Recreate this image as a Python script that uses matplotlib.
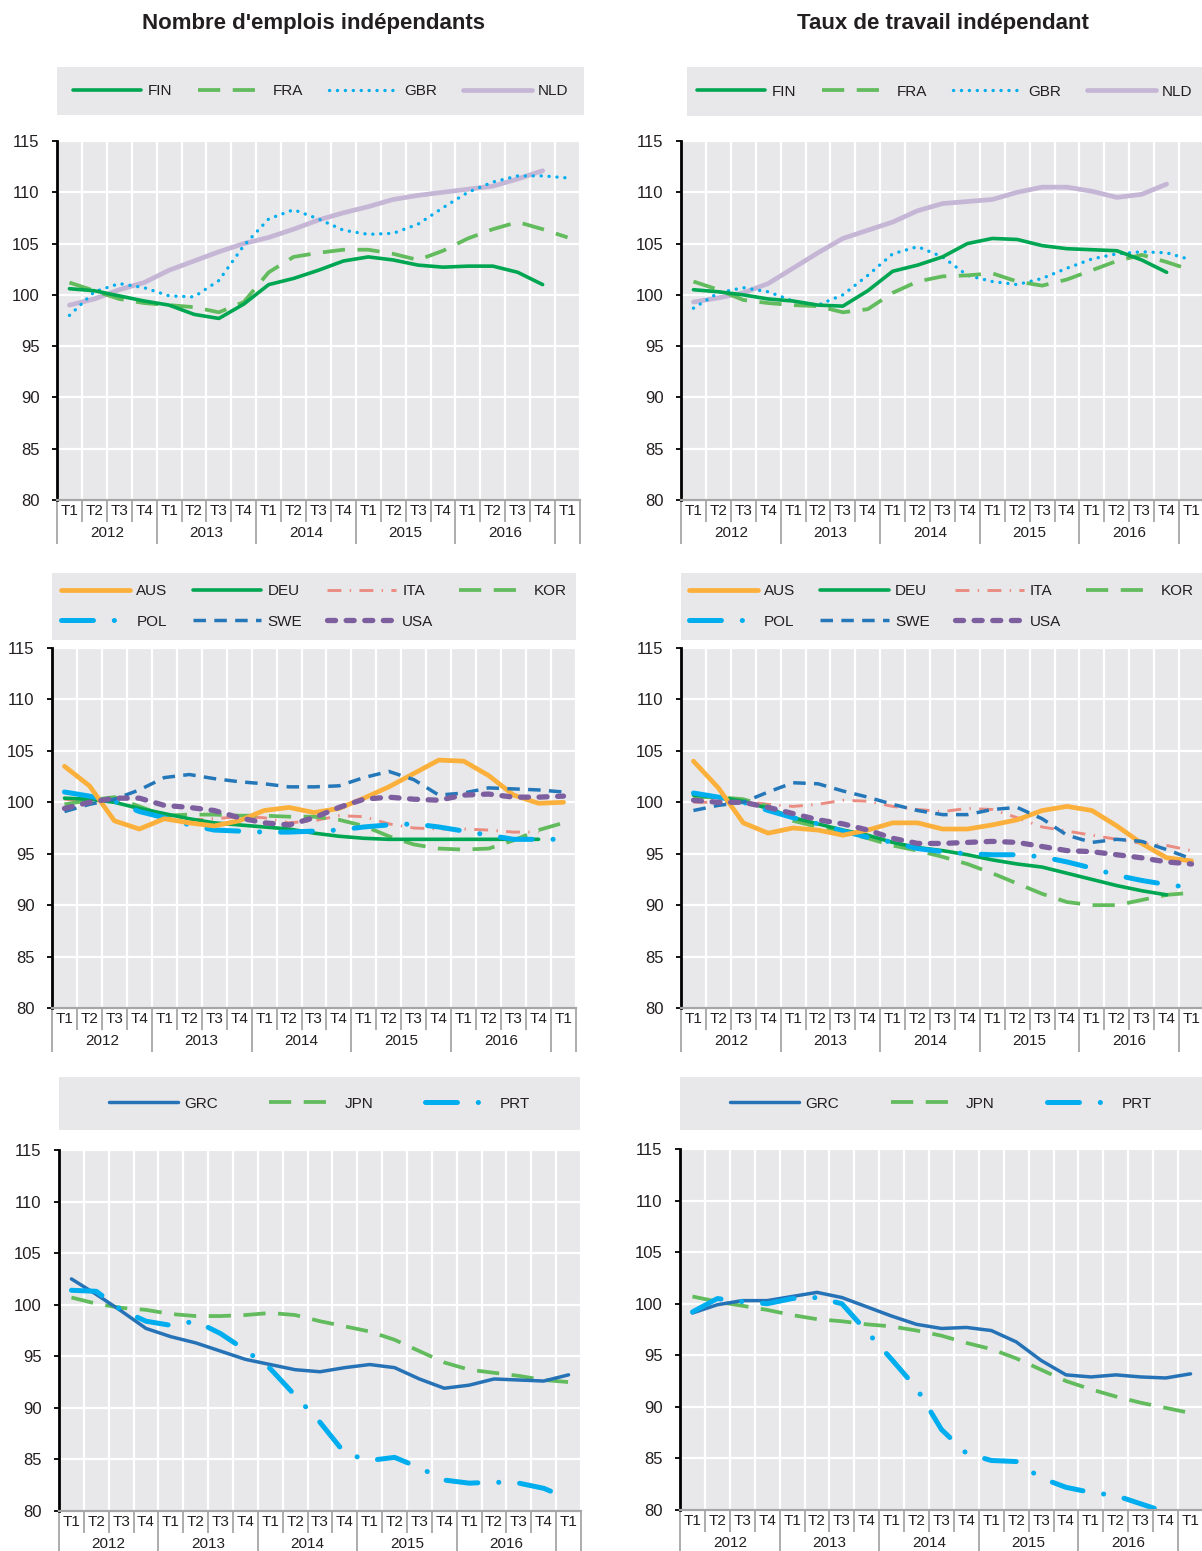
import numpy as np
import matplotlib.pyplot as plt
from matplotlib.patches import Rectangle

plt.rcParams['font.family'] = ['Liberation Sans Narrow', 'Liberation Sans', 'DejaVu Sans']
plt.rcParams['lines.scale_dashes'] = False

nan = np.nan
quarters = ["T1", "T2", "T3", "T4"] * 5 + ["T1"]
years = ["2012", "2013", "2014", "2015", "2016"]
titles = ["Nombre d'emplois indépendants", "Taux de travail indépendant"]

# nombre d'emplois indépendants (indice)
emp_fin = [100.6, 100.4, 99.9, 99.4, 99.0, 98.1, 97.7, 99.1, 101.0, 101.6, 102.4, 103.3, 103.7, 103.4, 102.9, 102.7, 102.8, 102.8, 102.2, 101.0, nan]
emp_fra = [101.2, 100.4, 99.6, 99.2, 99.0, 98.8, 98.3, 99.3, 102.2, 103.7, 104.1, 104.4, 104.4, 104.0, 103.4, 104.3, 105.5, 106.4, 107.1, 106.4, 105.6]
emp_gbr = [98.0, 100.3, 101.1, 100.7, 99.9, 99.8, 101.4, 104.8, 107.4, 108.3, 107.4, 106.3, 105.9, 106.0, 106.9, 108.5, 110.0, 111.0, 111.6, 111.6, 111.4]
emp_nld = [99.0, 99.6, 100.5, 101.2, 102.4, 103.3, 104.2, 105.0, 105.6, 106.4, 107.3, 108.0, 108.6, 109.3, 109.7, 110.0, 110.3, 110.6, 111.3, 112.1, nan]

emp_aus = [103.5, 101.6, 98.2, 97.4, 98.4, 98.0, 97.7, 98.2, 99.2, 99.5, 99.0, 99.4, 100.4, 101.5, 102.8, 104.1, 104.0, 102.6, 100.7, 99.9, 100.0]
emp_deu = [100.4, 100.3, 100.0, 99.4, 98.9, 98.4, 98.0, 97.8, 97.6, 97.4, 97.0, 96.7, 96.5, 96.4, 96.4, 96.4, 96.4, 96.4, 96.4, 96.4, nan]
emp_ita = [100.3, 100.1, 100.2, 99.3, 98.7, 98.3, 98.4, 98.6, 98.5, 98.0, 98.2, 98.7, 98.6, 97.9, 97.5, 97.4, 97.4, 97.3, 97.1, 97.1, nan]
emp_kor = [99.8, 100.2, 100.5, 99.6, 98.7, 98.8, 98.8, 98.7, 98.7, 98.6, 98.6, 98.3, 97.7, 96.7, 95.9, 95.5, 95.4, 95.5, 96.3, 97.3, 98.0]
emp_pol = [101.0, 100.6, 100.1, 99.1, 98.5, 97.8, 97.3, 97.2, 97.1, 97.1, 97.2, 97.3, 97.6, 97.8, 97.9, 97.6, 97.2, 96.8, 96.4, 96.4, 96.4]
emp_swe = [99.1, 99.8, 100.3, 101.2, 102.4, 102.7, 102.3, 102.0, 101.8, 101.5, 101.5, 101.6, 102.4, 103.0, 102.2, 100.7, 100.9, 101.4, 101.3, 101.2, 101.0]
emp_usa = [99.4, 100.0, 100.4, 100.4, 99.7, 99.5, 99.2, 98.5, 98.0, 97.8, 98.5, 99.5, 100.3, 100.5, 100.3, 100.2, 100.7, 100.8, 100.5, 100.5, 100.6]

emp_grc = [102.5, 101.0, 99.4, 97.7, 96.9, 96.3, 95.5, 94.7, 94.2, 93.7, 93.5, 93.9, 94.2, 93.9, 92.8, 91.9, 92.2, 92.8, 92.7, 92.6, 93.2]
emp_jpn = [100.7, 100.1, 99.7, 99.5, 99.1, 98.9, 98.9, 99.0, 99.2, 99.0, 98.4, 97.9, 97.4, 96.6, 95.5, 94.4, 93.7, 93.4, 93.1, 92.7, 92.5]
emp_prt = [101.4, 101.3, 99.5, 98.4, 98.0, 98.4, 97.2, 95.6, 93.8, 91.2, 88.6, 85.6, 84.9, 85.2, 84.2, 83.0, 82.7, 82.8, 82.7, 82.2, 81.2]

# taux de travail indépendant (indice)
rate_fin = [100.5, 100.3, 100.0, 99.6, 99.4, 99.0, 98.9, 100.4, 102.3, 102.9, 103.7, 105.0, 105.5, 105.4, 104.8, 104.5, 104.4, 104.3, 103.4, 102.2, nan]
rate_fra = [101.3, 100.5, 99.5, 99.2, 99.0, 98.9, 98.3, 98.6, 100.2, 101.3, 101.8, 101.9, 102.1, 101.3, 100.9, 101.5, 102.4, 103.3, 103.9, 103.2, 102.4]
rate_gbr = [98.7, 100.2, 100.7, 100.3, 99.4, 99.0, 100.0, 101.9, 104.0, 104.7, 103.7, 101.9, 101.3, 101.0, 101.6, 102.6, 103.5, 104.0, 104.2, 104.1, 103.4]
rate_nld = [99.3, 99.7, 100.2, 101.1, 102.6, 104.1, 105.5, 106.3, 107.1, 108.2, 108.9, 109.1, 109.3, 110.0, 110.5, 110.5, 110.1, 109.5, 109.8, 110.8, nan]

rate_aus = [104.0, 101.4, 98.0, 97.0, 97.5, 97.3, 96.8, 97.3, 98.0, 98.0, 97.4, 97.4, 97.8, 98.3, 99.2, 99.6, 99.2, 97.7, 96.0, 94.6, 94.3]
rate_deu = [100.7, 100.5, 100.1, 99.4, 98.5, 97.9, 97.3, 96.8, 96.1, 95.6, 95.3, 94.9, 94.4, 94.0, 93.7, 93.1, 92.5, 91.9, 91.4, 91.0, nan]
rate_ita = [100.0, 100.0, 100.1, 99.8, 99.6, 99.8, 100.2, 100.1, 99.6, 99.3, 99.1, 99.4, 99.3, 98.5, 97.6, 97.2, 96.8, 96.4, 96.0, 95.8, 95.3]
rate_kor = [100.5, 100.5, 100.3, 99.6, 98.2, 97.6, 97.1, 96.5, 95.8, 95.3, 94.7, 94.0, 93.1, 92.1, 91.1, 90.3, 90.0, 90.0, 90.5, 91.0, 91.2]
rate_pol = [100.9, 100.5, 100.0, 99.2, 98.5, 97.9, 97.2, 96.6, 96.1, 95.5, 95.2, 95.0, 94.9, 94.9, 94.7, 94.2, 93.6, 92.9, 92.4, 92.0, 91.7]
rate_swe = [99.2, 99.7, 100.0, 101.0, 101.9, 101.8, 101.1, 100.5, 99.8, 99.2, 98.8, 98.8, 99.3, 99.5, 98.4, 96.8, 96.1, 96.4, 96.2, 95.4, 94.5]
rate_usa = [100.2, 100.0, 100.0, 99.5, 98.9, 98.3, 97.9, 97.3, 96.5, 96.0, 96.0, 96.1, 96.2, 96.1, 95.7, 95.3, 95.2, 94.9, 94.6, 94.2, 94.0]

rate_grc = [99.1, 99.9, 100.3, 100.3, 100.7, 101.1, 100.6, 99.7, 98.8, 98.0, 97.6, 97.7, 97.4, 96.3, 94.5, 93.1, 92.9, 93.1, 92.9, 92.8, 93.2]
rate_jpn = [100.7, 100.2, 99.8, 99.4, 98.9, 98.5, 98.3, 98.0, 97.8, 97.4, 96.9, 96.2, 95.6, 94.7, 93.6, 92.5, 91.7, 91.0, 90.4, 89.9, 89.4]
rate_prt = [99.2, 100.5, 100.2, 100.0, 100.5, 100.6, 100.0, 97.3, 94.6, 91.8, 87.8, 85.5, 84.8, 84.7, 83.1, 82.2, 81.7, 81.4, 80.6, 79.8, 79.0]

GREEN = '#00a651'
LGREEN = '#62bb5d'
CYAN = '#00aeef'
styles = {
    'FIN': dict(color=GREEN, lw=2.6, ls='-'),
    'DEU': dict(color=GREEN, lw=2.6, ls='-'),
    'FRA': dict(color=LGREEN, lw=2.7, ls=(0, (16, 9))),
    'KOR': dict(color=LGREEN, lw=2.7, ls=(0, (16, 9))),
    'JPN': dict(color=LGREEN, lw=2.7, ls=(0, (16, 9))),
    'GBR': dict(color=CYAN, lw=2.4, ls=(0, (0.1, 5.6)), dash_capstyle='round'),
    'NLD': dict(color='#c5b6d6', lw=3.4, ls='-'),
    'AUS': dict(color='#fbb03b', lw=3.4, ls='-'),
    'ITA': dict(color='#ea8c82', lw=2.1, ls=(0, (10, 6, 1, 6))),
    'POL': dict(color=CYAN, lw=3.6, ls=(0, (23, 15, 0.1, 15)), dash_capstyle='round'),
    'PRT': dict(color=CYAN, lw=3.6, ls=(0, (23, 15, 0.1, 15)), dash_capstyle='round'),
    'SWE': dict(color='#2477b8', lw=2.5, ls=(0, (9, 6))),
    'USA': dict(color='#7d5f9f', lw=3.8, ls=(0, (5.8, 7.6)), dash_capstyle='round'),
    'GRC': dict(color='#2672b6', lw=2.5, ls='-'),
}

W, H = 1202, 1551
BG = '#e8e8ea'
fig = plt.figure(figsize=(W / 100, H / 100), dpi=100)
x = np.arange(len(quarters))


def draw_panel(axbox, legbox, series, leg_order, ncol, colsp):
    l, r, t, b = axbox
    ax = fig.add_axes([l / W, 1 - b / H, (r - l) / W, (b - t) / H])
    ax.set_facecolor(BG)
    lines = {}
    for name, vals in series:
        lines[name], = ax.plot(x, vals, solid_capstyle='round', **styles[name])
    ax.set_xlim(-0.5, 20.5)
    ax.set_ylim(80, 115)
    ax.set_yticks(range(80, 116, 5))
    ax.set_xticks([-0.5, 3.5, 7.5, 11.5, 15.5, 19.5, 20.5])
    ax.set_xticks(np.arange(0.5, 20, 1), minor=True)
    ax.tick_params(axis='x', which='major', length=32, width=1.3, color='#a6a6a6', labelbottom=False)
    ax.tick_params(axis='x', which='minor', length=16, width=1.3, color='#a6a6a6', labelbottom=False)
    ax.tick_params(axis='y', length=3.5, width=1.3, color='black', pad=9, labelsize=12, labelcolor='#231f20')
    ax.grid(which='both', axis='x', color='white', lw=1.6)
    ax.grid(which='major', axis='y', color='white', lw=1.6)
    ax.set_axisbelow(True)
    for s in ['top', 'right']:
        ax.spines[s].set_visible(False)
    ax.spines['left'].set_linewidth(2)
    ax.spines['bottom'].set_color('#a6a6a6')
    ax.spines['bottom'].set_linewidth(1.6)
    for i, q in enumerate(quarters):
        ax.annotate(q, xy=(i, 0), xycoords=('data', 'axes fraction'), xytext=(0, -8),
                    textcoords='offset points', ha='center', va='center', fontsize=11, color='#231f20')
    for k, yr in enumerate(years):
        ax.annotate(yr, xy=(4 * k + 1.5, 0), xycoords=('data', 'axes fraction'), xytext=(0, -24),
                    textcoords='offset points', ha='center', va='center', fontsize=11, color='#231f20')

    ll, lr, lt, lb = legbox
    fig.add_artist(Rectangle((ll / W, 1 - lb / H), (lr - ll) / W, (lb - lt) / H,
                             transform=fig.transFigure, facecolor=BG, edgecolor='none', zorder=0))
    ax.legend([lines[n] for n in leg_order], leg_order, loc='center',
              bbox_to_anchor=((ll + lr) / 2 / W, 1 - (lt + lb) / 2 / H), bbox_transform=fig.transFigure,
              ncol=ncol, frameon=False, fontsize=11, handlelength=4.5, handletextpad=0.4,
              columnspacing=colsp, labelspacing=1.05, borderpad=0, labelcolor='#231f20')
    return ax


top_order = ['FIN', 'FRA', 'GBR', 'NLD']
mid_order = ['AUS', 'POL', 'DEU', 'SWE', 'ITA', 'USA', 'KOR']
bot_order = ['GRC', 'JPN', 'PRT']

draw_panel((57, 580, 141, 500), (57, 584, 67, 115),
           [('NLD', emp_nld), ('GBR', emp_gbr), ('FRA', emp_fra), ('FIN', emp_fin)], top_order, 4, 1.7)
draw_panel((681, 1204, 141, 500), (687, 1202, 67, 116),
           [('NLD', rate_nld), ('GBR', rate_gbr), ('FRA', rate_fra), ('FIN', rate_fin)], top_order, 4, 1.7)
draw_panel((52, 576, 648, 1008), (52, 576, 573, 640),
           [('ITA', emp_ita), ('KOR', emp_kor), ('DEU', emp_deu), ('POL', emp_pol), ('AUS', emp_aus),
            ('SWE', emp_swe), ('USA', emp_usa)], mid_order, 4, 1.65)
draw_panel((681, 1204, 648, 1008), (681, 1202, 573, 640),
           [('ITA', rate_ita), ('KOR', rate_kor), ('DEU', rate_deu), ('POL', rate_pol), ('AUS', rate_aus),
            ('SWE', rate_swe), ('USA', rate_usa)], mid_order, 4, 1.65)
draw_panel((59, 581, 1150, 1511), (59, 580, 1077, 1130),
           [('JPN', emp_jpn), ('GRC', emp_grc), ('PRT', emp_prt)], bot_order, 3, 3.4)
draw_panel((680, 1203, 1149, 1510), (680, 1202, 1077, 1130),
           [('JPN', rate_jpn), ('GRC', rate_grc), ('PRT', rate_prt)], bot_order, 3, 3.4)

fig.text(314 / W, 1 - 24 / H, titles[0], ha='center', va='center', fontsize=16, fontweight='bold', color='#231f20')
fig.text(943 / W, 1 - 24 / H, titles[1], ha='center', va='center', fontsize=16, fontweight='bold', color='#231f20')

fig.savefig('out.png', dpi=100)
